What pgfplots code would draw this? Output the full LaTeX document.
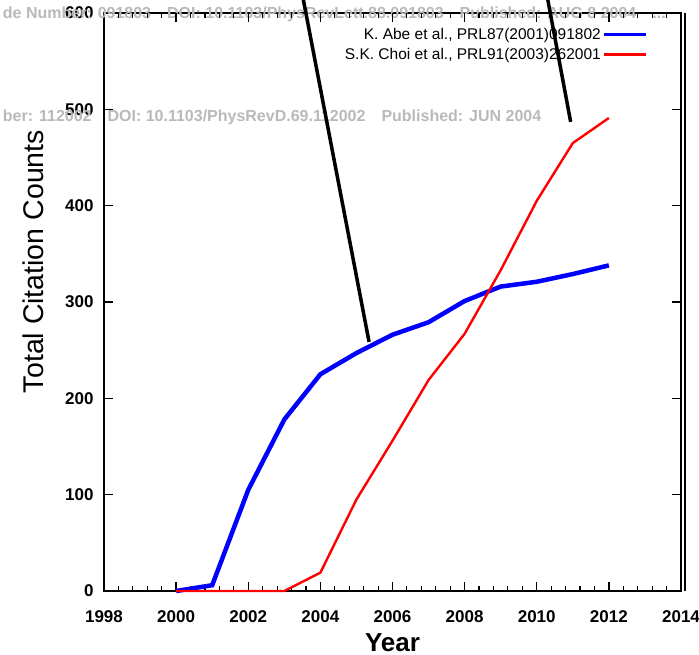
\documentclass[border=0pt]{standalone}
\usepackage{fontspec}
\setmainfont{Liberation Sans}
\usepackage{pgfplots}
\pgfplotsset{compat=1.18}
\usetikzlibrary{calc}
\begin{document}
\begin{tikzpicture}
\begin{axis}[name=ax,
  scale only axis, width=577pt, height=578pt,
  xmin=1998, xmax=2014, ymin=0, ymax=600,
  xtick={1998,2000,...,2014}, ytick={0,100,...,600},
  minor x tick num=4,
  xtick align=inside, ytick align=inside,
  xtick pos=both, ytick pos=both,
  major tick length=9pt, minor tick length=5pt,
  xtick style={draw=black, line width=1.3pt},
  ytick style={draw=black, line width=1.3pt},
  minor tick style={draw=black, line width=1.1pt},
  x tick label style={/pgf/number format/1000 sep={}, font=\bfseries\fontsize{17}{17}\selectfont, yshift=-16pt},
  y tick label style={font=\bfseries\fontsize{17}{17}\selectfont, xshift=-7pt},
  /pgf/number format/assume math mode=true,
  axis line style={line width=2pt},
  xlabel={Year}, ylabel={Total Citation Counts},
  xlabel style={font=\bfseries\fontsize{26}{26}\selectfont, yshift=-4pt},
  ylabel style={font=\fontsize{28.5}{28.5}\selectfont, at={(ticklabel cs:0.57)}, yshift=14pt},
  clip=false,
  legend style={draw=none, fill=none, at={([xshift=-30pt,yshift=-11pt]rel axis cs:1,1)}, anchor=north east, font=\fontsize{15.5}{15.5}\selectfont,
    legend cell align=right, row sep=3pt},
  legend plot pos=right,
  legend image code/.code={\draw[#1, line width=3pt] (0pt,0pt) -- (42pt,0pt);},
]
\node[anchor=west, text=gray!55, font=\bfseries\fontsize{16}{16}\selectfont] at (axis cs:1995.1,492) {ber: 112002\quad DOI: 10.1103/PhysRevD.69.112002\quad Published: JUN 2004};
\node[anchor=west, text=gray!55, font=\bfseries\fontsize{16}{16}\selectfont] at (axis cs:1995.1,599) {de Number: 091803\quad DOI: 10.1103/PhysRevLett.88.091803\quad Published: AUG 8 2004\quad ...};
\pgfplotsinvokeforeach{0.125,0.25,0.375,0.5,0.625,0.75,0.875}{
  \draw[line width=1.3pt] (rel axis cs:#1,0) -- ([yshift=9pt]rel axis cs:#1,0);
  \draw[line width=1.3pt] (rel axis cs:#1,1) -- ([yshift=-9pt]rel axis cs:#1,1);
}
\pgfplotsinvokeforeach{0.025,0.05,0.075,0.1,0.15,0.175,0.2,0.225,0.275,0.3,0.325,0.35,0.4,0.425,0.45,0.475,0.525,0.55,0.575,0.6,0.65,0.675,0.7,0.725,0.775,0.8,0.825,0.85,0.9,0.925,0.95,0.975}{
  \draw[line width=1.1pt] (rel axis cs:#1,0) -- ([yshift=5pt]rel axis cs:#1,0);
  \draw[line width=1.1pt] (rel axis cs:#1,1) -- ([yshift=-5pt]rel axis cs:#1,1);
}
\pgfplotsinvokeforeach{0.1666667,0.3333333,0.5,0.6666667,0.8333333}{
  \draw[line width=1.3pt] (rel axis cs:0,#1) -- ([xshift=9pt]rel axis cs:0,#1);
  \draw[line width=1.3pt] (rel axis cs:1,#1) -- ([xshift=-9pt]rel axis cs:1,#1);
}
\addplot[blue, line width=4.5pt] coordinates {
(2000,0) (2001,6) (2002,105) (2003,178) (2004,225) (2005,247) (2006,266) (2007,279) (2008,301) (2009,316) (2010,321) (2011,329) (2012,338)};
\addlegendentry{K. Abe et al., PRL87(2001)091802}
\addplot[red, line width=2.4pt] coordinates {
(2000,0) (2001,0) (2002,0) (2003,0) (2004,19) (2005,95) (2006,156) (2007,219) (2008,267) (2009,333) (2010,405) (2011,465) (2012,491)};
\addlegendentry{S.K. Choi et al., PRL91(2003)262001}
\draw[black, line width=3.5pt] (axis cs:2003.47,625) -- (axis cs:2005.35,258.6);
\draw[black, line width=3.5pt] (axis cs:2010.25,625) -- (axis cs:2010.94,487);
\draw[line width=1.3pt] ([xshift=4pt]rel axis cs:1,1) -- ([xshift=4pt]rel axis cs:1,0);
\end{axis}
\pgfresetboundingbox
\path[use as bounding box] ($(ax.south west)+(-104pt,-64pt)$) rectangle ($(ax.north east)+(18pt,13pt)$);
\end{tikzpicture}
\end{document}
